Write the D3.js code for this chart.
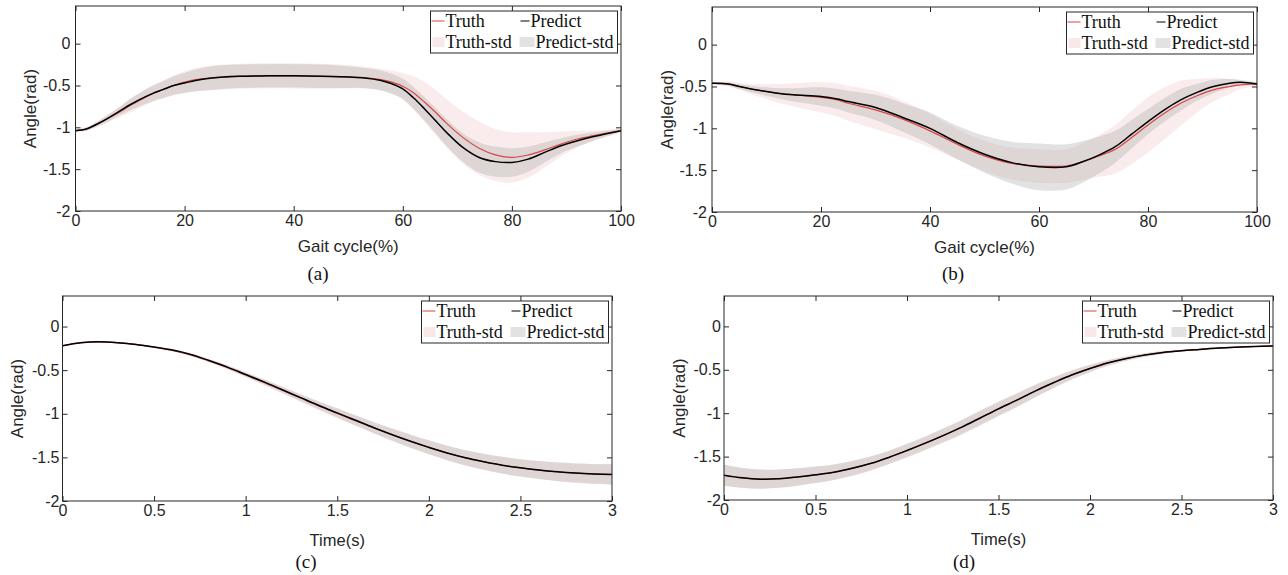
<!DOCTYPE html>
<html>
<head>
<meta charset="utf-8">
<script src="https://cdn.jsdelivr.net/npm/d3@7"></script>
<style>
  body { margin: 0; background: #fff; }
  text { font-family: "Liberation Sans", Arial, sans-serif; fill: #262626; }
  .serif { font-family: "Liberation Serif", "Times New Roman", serif; fill: #111; }
</style>
</head>
<body>
<script>
// ---- data ----
// (a) gait cycle, %
var gaitA = [0, 2, 4, 6, 8, 10, 12, 14, 16, 18, 20, 22, 25, 30, 35, 40, 45, 50, 53, 56, 58, 60, 62, 64, 66, 68, 71, 74, 77, 80, 83, 86, 89, 92, 95, 100];
var truthA = [-1.04, -1.02, -0.96, -0.89, -0.82, -0.74, -0.67, -0.60, -0.55, -0.50, -0.46, -0.43, -0.41, -0.39, -0.385, -0.385, -0.39, -0.395, -0.405, -0.43, -0.46, -0.51, -0.59, -0.70, -0.82, -0.95, -1.12, -1.25, -1.33, -1.36, -1.33, -1.27, -1.20, -1.14, -1.10, -1.04];
var predA = [-1.04, -1.02, -0.96, -0.89, -0.81, -0.73, -0.66, -0.60, -0.55, -0.50, -0.47, -0.44, -0.41, -0.39, -0.385, -0.385, -0.39, -0.40, -0.41, -0.44, -0.48, -0.54, -0.65, -0.78, -0.92, -1.06, -1.24, -1.36, -1.41, -1.42, -1.38, -1.30, -1.22, -1.16, -1.11, -1.04];
var truthStdA = [0.01, 0.02, 0.03, 0.05, 0.06, 0.08, 0.09, 0.10, 0.11, 0.12, 0.13, 0.14, 0.15, 0.15, 0.15, 0.15, 0.15, 0.14, 0.13, 0.13, 0.14, 0.16, 0.20, 0.24, 0.27, 0.29, 0.31, 0.32, 0.31, 0.30, 0.27, 0.21, 0.15, 0.10, 0.06, 0.02];
var predStdA = [0.01, 0.02, 0.03, 0.04, 0.05, 0.07, 0.08, 0.09, 0.10, 0.11, 0.12, 0.13, 0.14, 0.14, 0.14, 0.14, 0.14, 0.13, 0.12, 0.12, 0.12, 0.12, 0.13, 0.14, 0.15, 0.16, 0.17, 0.18, 0.18, 0.17, 0.15, 0.12, 0.09, 0.07, 0.05, 0.02];

// (b) gait cycle, %
var gaitB = [0, 3, 5, 8, 10, 12, 15, 20, 23, 25, 30, 35, 40, 45, 50, 55, 60, 65, 68, 71, 74, 77, 80, 83, 86, 89, 92, 95, 97, 100];
var truthB = [-0.46, -0.47, -0.50, -0.54, -0.56, -0.58, -0.60, -0.63, -0.66, -0.70, -0.78, -0.89, -1.03, -1.19, -1.33, -1.42, -1.45, -1.45, -1.40, -1.33, -1.25, -1.11, -0.96, -0.82, -0.70, -0.61, -0.54, -0.50, -0.48, -0.47];
var predB = [-0.46, -0.47, -0.50, -0.54, -0.56, -0.58, -0.60, -0.62, -0.65, -0.68, -0.75, -0.87, -1.00, -1.17, -1.31, -1.41, -1.46, -1.46, -1.40, -1.32, -1.22, -1.07, -0.92, -0.78, -0.66, -0.57, -0.50, -0.46, -0.45, -0.47];
var truthStdB = [0.01, 0.03, 0.04, 0.07, 0.09, 0.11, 0.14, 0.18, 0.20, 0.21, 0.23, 0.22, 0.20, 0.18, 0.18, 0.19, 0.20, 0.20, 0.22, 0.25, 0.29, 0.32, 0.33, 0.31, 0.27, 0.20, 0.14, 0.09, 0.05, 0.02];
var predStdB = [0.01, 0.02, 0.03, 0.04, 0.05, 0.06, 0.08, 0.11, 0.12, 0.13, 0.15, 0.17, 0.19, 0.20, 0.22, 0.25, 0.28, 0.27, 0.25, 0.22, 0.19, 0.17, 0.15, 0.14, 0.13, 0.10, 0.08, 0.05, 0.03, 0.02];

// (c) and (d) time, s
var timeCD = [0, 0.1, 0.2, 0.3, 0.4, 0.5, 0.6, 0.7, 0.8, 0.9, 1.0, 1.1, 1.2, 1.3, 1.4, 1.5, 1.6, 1.7, 1.8, 1.9, 2.0, 2.1, 2.2, 2.3, 2.4, 2.5, 2.6, 2.7, 2.8, 2.9, 3.0];
var truthC = [-0.22, -0.185, -0.175, -0.185, -0.205, -0.235, -0.275, -0.325, -0.395, -0.47, -0.555, -0.64, -0.73, -0.82, -0.91, -0.995, -1.08, -1.16, -1.24, -1.315, -1.385, -1.45, -1.505, -1.55, -1.59, -1.62, -1.645, -1.665, -1.68, -1.69, -1.695];
var predC = [-0.22, -0.185, -0.175, -0.185, -0.205, -0.235, -0.27, -0.32, -0.39, -0.465, -0.55, -0.635, -0.725, -0.815, -0.905, -0.99, -1.075, -1.16, -1.24, -1.315, -1.385, -1.45, -1.505, -1.55, -1.59, -1.62, -1.645, -1.665, -1.68, -1.69, -1.695];
var truthStdC = [0.005, 0.005, 0.006, 0.007, 0.008, 0.01, 0.012, 0.015, 0.018, 0.022, 0.027, 0.032, 0.038, 0.044, 0.05, 0.056, 0.061, 0.066, 0.071, 0.076, 0.08, 0.084, 0.088, 0.092, 0.096, 0.1, 0.104, 0.108, 0.112, 0.115, 0.118];
var predStdC = [0.005, 0.005, 0.006, 0.007, 0.008, 0.01, 0.012, 0.014, 0.017, 0.021, 0.025, 0.03, 0.035, 0.04, 0.046, 0.052, 0.058, 0.064, 0.07, 0.075, 0.08, 0.084, 0.088, 0.092, 0.096, 0.1, 0.103, 0.106, 0.109, 0.112, 0.115];

var truthD = [-1.715, -1.745, -1.76, -1.755, -1.735, -1.71, -1.68, -1.635, -1.58, -1.51, -1.43, -1.345, -1.255, -1.16, -1.055, -0.95, -0.85, -0.745, -0.65, -0.56, -0.485, -0.42, -0.37, -0.33, -0.30, -0.28, -0.265, -0.25, -0.24, -0.232, -0.225];
var predD = [-1.715, -1.745, -1.76, -1.755, -1.735, -1.71, -1.68, -1.635, -1.58, -1.51, -1.43, -1.345, -1.255, -1.16, -1.055, -0.95, -0.85, -0.745, -0.65, -0.56, -0.485, -0.42, -0.37, -0.33, -0.30, -0.28, -0.265, -0.25, -0.24, -0.232, -0.225];
var truthStdD = [0.12, 0.115, 0.11, 0.105, 0.1, 0.095, 0.09, 0.085, 0.082, 0.08, 0.08, 0.082, 0.085, 0.088, 0.09, 0.088, 0.083, 0.076, 0.066, 0.055, 0.045, 0.035, 0.027, 0.02, 0.015, 0.01, 0.008, 0.006, 0.005, 0.005, 0.005];
var predStdD = [0.12, 0.115, 0.11, 0.105, 0.1, 0.095, 0.09, 0.085, 0.08, 0.075, 0.075, 0.075, 0.078, 0.08, 0.08, 0.08, 0.075, 0.07, 0.06, 0.05, 0.04, 0.03, 0.025, 0.02, 0.015, 0.01, 0.008, 0.006, 0.005, 0.005, 0.005];

var yTicks = [-2, -1.5, -1, -0.5, 0];
var gaitTicks = [0, 20, 40, 60, 80, 100];
var timeTicks = [0, 0.5, 1, 1.5, 2, 2.5, 3];
var legendNames = ["Truth", "Predict", "Truth-std", "Predict-std"];

var svg = d3.select("body").append("svg")
  .attr("width", 1288)
  .attr("height", 575);

var panels = [
  { id: "a", xs: gaitA, truth: truthA, pred: predA, tStd: truthStdA, pStd: predStdA,
    xDomain: [0, 100], yDomain: [-2, 0.45], xTicks: gaitTicks, xLabel: "Gait cycle(%)", cap: "(a)",
    left: 75.5, right: 621, top: 6, bottom: 211, capX: 318, capY: 273, fs: 16, tickPad: 5, xlabY: 35, xlfs: 17 },
  { id: "b", xs: gaitB, truth: truthB, pred: predB, tStd: truthStdB, pStd: predStdB,
    xDomain: [0, 100], yDomain: [-2, 0.45], xTicks: gaitTicks, xLabel: "Gait cycle(%)", cap: "(b)",
    left: 712, right: 1257, top: 7, bottom: 212, capX: 953, capY: 273, fs: 16, tickPad: 5, xlabY: 35, xlfs: 17 },
  { id: "c", xs: timeCD, truth: truthC, pred: predC, tStd: truthStdC, pStd: predStdC,
    xDomain: [0, 3], yDomain: [-2, 0.35], xTicks: timeTicks, xLabel: "Time(s)", cap: "(c)",
    left: 62.5, right: 612, top: 296, bottom: 501, capX: 306, capY: 561, fs: 16, tickPad: 3, xlabY: 39, xlfs: 16.5 },
  { id: "d", xs: timeCD, truth: truthD, pred: predD, tStd: truthStdD, pStd: predStdD,
    xDomain: [0, 3], yDomain: [-2, 0.35], xTicks: timeTicks, xLabel: "Time(s)", cap: "(d)",
    left: 724, right: 1273, top: 296, bottom: 500, capX: 964, capY: 561, fs: 16, tickPad: 3, xlabY: 39, xlfs: 16.5 }
];

panels.forEach(drawPanel);

function drawPanel(p) {
  var x = d3.scaleLinear().domain(p.xDomain).range([p.left, p.right]);
  var y = d3.scaleLinear().domain(p.yDomain).range([p.bottom, p.top]);
  var g = svg.append("g");

  g.append("clipPath").attr("id", "clip-" + p.id)
    .append("rect")
    .attr("x", p.left).attr("y", p.top)
    .attr("width", p.right - p.left).attr("height", p.bottom - p.top);

  var plot = g.append("g").attr("clip-path", "url(#clip-" + p.id + ")");
  var idx = d3.range(p.xs.length);

  var band = function(m, s) {
    return d3.area()
      .x(i => x(p.xs[i]))
      .y0(i => y(m[i] - s[i]))
      .y1(i => y(m[i] + s[i]))
      .curve(d3.curveCatmullRom);
  };
  var line = function(m) {
    return d3.line()
      .x(i => x(p.xs[i]))
      .y(i => y(m[i]))
      .curve(d3.curveCatmullRom);
  };

  plot.append("path").attr("d", band(p.truth, p.tStd)(idx))
    .attr("fill", "#f0c8c8").attr("fill-opacity", 0.35);
  plot.append("path").attr("d", band(p.pred, p.pStd)(idx))
    .attr("fill", "#a0a0a0").attr("fill-opacity", 0.3);
  plot.append("path").attr("d", line(p.truth)(idx))
    .attr("fill", "none").attr("stroke", "#d94545").attr("stroke-width", 1.2);
  plot.append("path").attr("d", line(p.pred)(idx))
    .attr("fill", "none").attr("stroke", "#000").attr("stroke-width", 1.5);

  // axes, ticks pointing inward on all four sides
  var fmt = d => String(d);
  g.append("g").attr("transform", `translate(0,${p.bottom})`)
    .call(d3.axisBottom(x).tickValues(p.xTicks).tickSizeInner(-5).tickSizeOuter(0).tickPadding(4).tickFormat(fmt))
    .call(styleAxis, p.fs);
  g.append("g").attr("transform", `translate(0,${p.top})`)
    .call(d3.axisTop(x).tickValues(p.xTicks).tickSizeInner(-5).tickSizeOuter(0).tickFormat(""))
    .call(styleAxis, p.fs);
  g.append("g").attr("transform", `translate(${p.left},0)`)
    .call(d3.axisLeft(y).tickValues(yTicks).tickSizeInner(-5).tickSizeOuter(0).tickPadding(p.tickPad).tickFormat(fmt))
    .call(styleAxis, p.fs);
  g.append("g").attr("transform", `translate(${p.right},0)`)
    .call(d3.axisRight(y).tickValues(yTicks).tickSizeInner(-5).tickSizeOuter(0).tickFormat(""))
    .call(styleAxis, p.fs);

  g.append("rect")
    .attr("x", p.left).attr("y", p.top)
    .attr("width", p.right - p.left).attr("height", p.bottom - p.top)
    .attr("fill", "none").attr("stroke", "#262626").attr("stroke-width", 1);

  g.append("text")
    .attr("x", (p.left + p.right) / 2).attr("y", p.bottom + p.xlabY)
    .attr("text-anchor", "middle").attr("dy", "0.35em")
    .style("font-size", p.xlfs + "px")
    .text(p.xLabel);

  g.append("text")
    .attr("transform", `translate(${p.left - 45},${(p.top + p.bottom) / 2}) rotate(-90)`)
    .attr("text-anchor", "middle").attr("dy", "0.35em")
    .style("font-size", "17px")
    .text("Angle(rad)");

  g.append("text").attr("class", "serif")
    .attr("x", p.capX).attr("y", p.capY)
    .attr("text-anchor", "middle").attr("dy", "0.35em")
    .style("font-size", "19px")
    .text(p.cap);

  drawLegend(g, p.right - 190.5, p.top + 5);
}

function styleAxis(sel, fs) {
  sel.select(".domain").remove();
  sel.selectAll(".tick line").attr("stroke", "#262626");
  sel.selectAll(".tick text")
    .attr("fill", "#262626")
    .style("font-family", "'Liberation Sans', Arial, sans-serif")
    .style("font-size", fs + "px");
}

function drawLegend(g, L, T) {
  var lg = g.append("g").attr("transform", `translate(${L},${T})`);
  lg.append("rect")
    .attr("width", 187).attr("height", 42)
    .attr("fill", "#fff").attr("stroke", "#262626").attr("stroke-width", 1);

  var items = [
    { name: legendNames[0], kind: "line", color: "#d94545", x: 1, w: 13, row: 0 },
    { name: legendNames[1], kind: "line", color: "#000", x: 90, w: 9, row: 0 },
    { name: legendNames[2], kind: "patch", color: "#f8e8e8", x: 2, w: 12, row: 1 },
    { name: legendNames[3], kind: "patch", color: "#e2e2e2", x: 89, w: 15, row: 1 }
  ];

  items.forEach(function(d) {
    var cy = d.row === 0 ? 10 : 31;
    if (d.kind === "line") {
      lg.append("line")
        .attr("x1", d.x).attr("x2", d.x + d.w)
        .attr("y1", cy).attr("y2", cy)
        .attr("stroke", d.color).attr("stroke-width", 1);
    } else {
      lg.append("rect")
        .attr("x", d.x).attr("y", cy - 5)
        .attr("width", d.w).attr("height", 10)
        .attr("fill", d.color);
    }
    lg.append("text").attr("class", "serif")
      .attr("x", d.x + d.w + 1).attr("y", cy + 6)
      .style("font-size", "18px")
      .text(d.name);
  });
}
</script>
</body>
</html>
